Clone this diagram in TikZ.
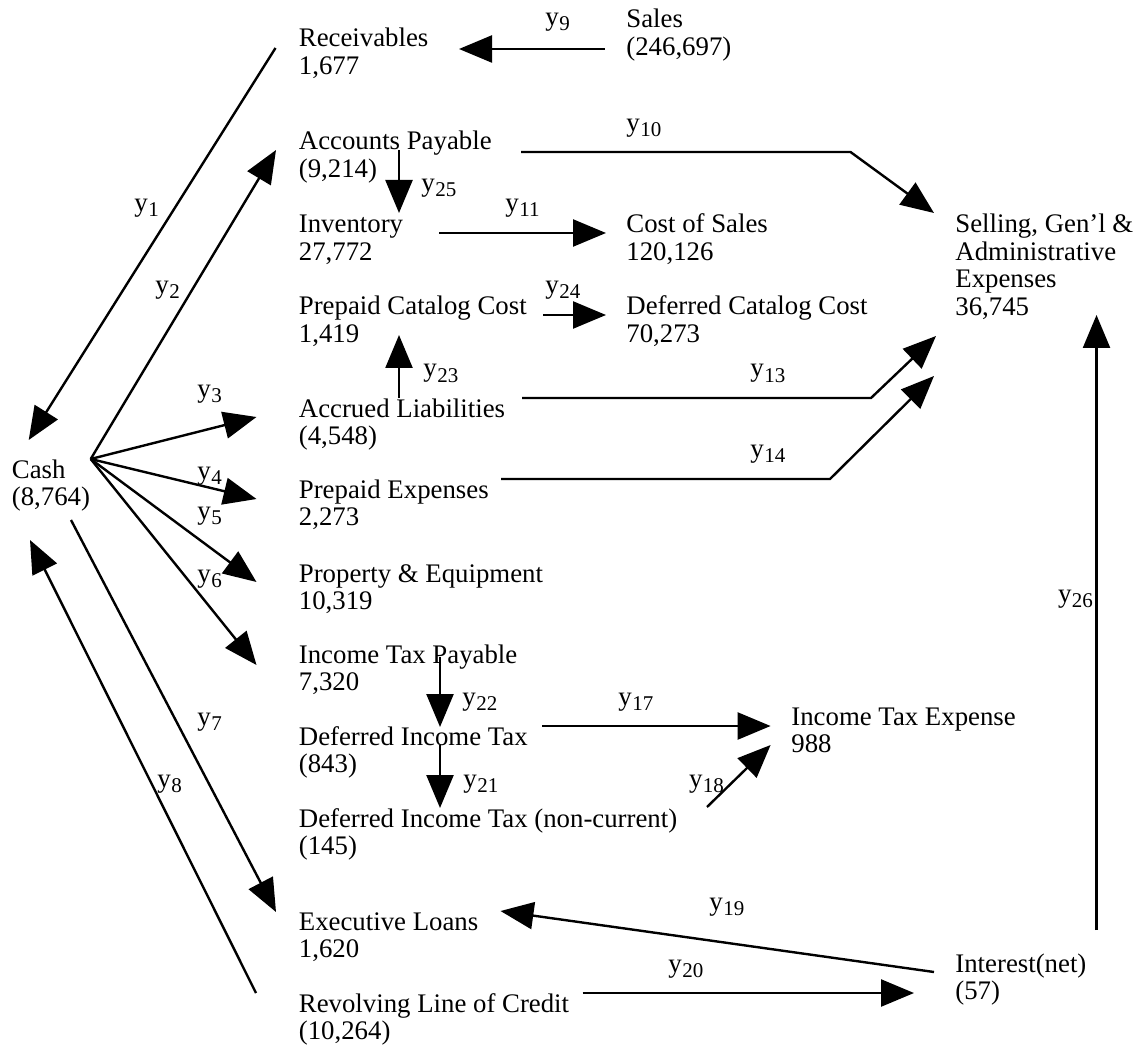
\documentclass[tikz,border=0pt]{standalone}
\usepackage{fontspec}
\setmainfont{Liberation Serif}
\usetikzlibrary{arrows.meta}
\newcommand\two[2]{\vtop{\hbox{#1}\hbox{#2}}}
\newcommand\yl[1]{y\kern0.2pt\raisebox{-2.5pt}{\fontsize{10.5}{11}\selectfont #1}}
\begin{document}
\begin{tikzpicture}[x=0.5pt,y=-0.5pt,
  acc/.style={anchor=base west,inner sep=0pt,font=\fontsize{13.4}{13.7}\selectfont},
  lab/.style={anchor=base west,inner sep=0pt,font=\fontsize{13.5}{14}\selectfont},
  ln/.style={line width=1.2pt,line join=miter},
  arr/.style={ln,-{Triangle[length=16.5pt,width=13.5pt]}}]
\useasboundingbox (0,0) rectangle (1143,1047);
% accounts
\node[acc] (recv) at (298.5,47) {\two{Receivables}{1,677}};
\node[acc] (sales) at (626,28) {\two{Sales}{(246,697)}};
\node[acc] (ap) at (298.5,150) {\two{Accounts Payable}{(9,214)}};
\node[acc] (inv) at (298.5,233) {\two{Inventory}{27,772}};
\node[acc] (cos) at (626,233) {\two{Cost of Sales}{120,126}};
\node[acc] (pcc) at (298.5,315) {\two{Prepaid Catalog Cost}{1,419}};
\node[acc] (dcc) at (626,315) {\two{Deferred Catalog Cost}{70,273}};
\node[acc] (sga) at (955,233) {\vtop{\hbox{Selling, Gen'l \&}\hbox{Administrative}\hbox{Expenses}\hbox{36,745}}};
\node[acc] (accr) at (298.5,417) {\two{Accrued Liabilities}{(4,548)}};
\node[acc] (cash) at (11.5,478) {\two{Cash}{(8,764)}};
\node[acc] (ppe) at (298.5,498) {\two{Prepaid Expenses}{2,273}};
\node[acc] (prop) at (298.5,582) {\two{Property \& Equipment}{10,319}};
\node[acc] (itp) at (298.5,663) {\two{Income Tax Payable}{7,320}};
\node[acc] (dit) at (298.5,745) {\two{Deferred Income Tax}{(843)}};
\node[acc] (ite) at (791,725) {\two{Income Tax Expense}{988}};
\node[acc] (ditn) at (298.5,827) {\two{Deferred Income Tax (non-current)}{(145)}};
\node[acc] (exl) at (298.5,930) {\two{Executive Loans}{1,620}};
\node[acc] (intr) at (955,972) {\two{Interest(net)}{(57)}};
\node[acc] (rloc) at (298.5,1012) {\two{Revolving Line of Credit}{(10,264)}};
% connectors
\draw[arr] ([shift={(-23,1)}]recv.base west) -- ([shift={(17.2,-38)}]cash.base west);
\draw[arr] ([shift={(79.2,-19)}]cash.base west) -- ([shift={(-22.5,0)}]ap.base west);
\draw[arr] ([shift={(79.2,-19)}]cash.base west) -- ([shift={(-42,0)}]accr.base west);
\draw[arr] ([shift={(79.2,-19)}]cash.base west) -- ([shift={(-42,1)}]ppe.base west);
\draw[arr] ([shift={(79.2,-19)}]cash.base west) -- ([shift={(-42,0)}]prop.base west);
\draw[arr] ([shift={(79.2,-19)}]cash.base west) -- ([shift={(-42,2)}]itp.base west);
\draw[arr] ([shift={(59.5,42)}]cash.base west) -- ([shift={(-22.5,-18)}]exl.base west);
\draw[arr] ([shift={(-42.5,-19)}]rloc.base west) -- ([shift={(18.5,62)}]cash.base west);
\draw[arr] ([shift={(-21.5,21)}]sales.base west) -- ([shift={(160.5,2)}]recv.base west);
\draw[arr] ([shift={(222.5,2)}]ap.base west) -- ([shift={(552,2)}]ap.base west) -- ([shift={(-21,-20)}]sga.base west);
\draw[arr] ([shift={(100.5,0)}]ap.base west) -- ([shift={(100.5,-20)}]inv.base west);
\draw[arr] ([shift={(140.5,0)}]inv.base west) -- ([shift={(-20,0)}]cos.base west);
\draw[arr] ([shift={(244.5,0)}]pcc.base west) -- ([shift={(-20,0)}]dcc.base west);
\draw[arr] ([shift={(100.5,-19)}]accr.base west) -- ([shift={(100.5,20)}]pcc.base west);
\draw[arr] ([shift={(223.5,-19)}]accr.base west) -- ([shift={(572.5,-19)}]accr.base west) -- ([shift={(-19,103)}]sga.base west);
\draw[arr] ([shift={(202.5,-19)}]ppe.base west) -- ([shift={(531.5,-19)}]ppe.base west) -- ([shift={(-21,143)}]sga.base west);
\draw[arr] ([shift={(141.5,-6)}]itp.base west) -- ([shift={(141.5,-18)}]dit.base west);
\draw[arr] ([shift={(141.5,0)}]dit.base west) -- ([shift={(141.5,-19)}]ditn.base west);
\draw[arr] ([shift={(243.5,-19)}]dit.base west) -- ([shift={(-20.4,1)}]ite.base west);
\draw[arr] ([shift={(408.5,-20)}]ditn.base west) -- ([shift={(-20.4,20)}]ite.base west);
\draw[arr] ([shift={(-21,0)}]intr.base west) -- ([shift={(202,-19)}]exl.base west);
\draw[arr] ([shift={(284,-19)}]rloc.base west) -- ([shift={(-41,21)}]intr.base west);
\draw[arr] ([shift={(141.5,-42)}]intr.base west) -- ([shift={(141.5,82)}]sga.base west);
% labels
\node[lab] (l1) at (134,212) {\yl{1}};
\node[lab] (l2) at (155,294) {\yl{2}};
\node[lab] (l3) at (197,397) {\yl{3}};
\node[lab] (l4) at (197,479) {\yl{4}};
\node[lab] (l5) at (197,519) {\yl{5}};
\node[lab] (l6) at (197,582) {\yl{6}};
\node[lab] (l7) at (197,725) {\yl{7}};
\node[lab] (l8) at (157,787) {\yl{8}};
\node[lab] (l9) at (545,26) {\yl{9}};
\node[lab] (l10) at (626,132) {\yl{10}};
\node[lab] (l11) at (505,212) {\yl{11}};
\node[lab] (l13) at (750,377) {\yl{13}};
\node[lab] (l14) at (750,457) {\yl{14}};
\node[lab] (l17) at (618,705) {\yl{17}};
\node[lab] (l18) at (688.6,787) {\yl{18}};
\node[lab] (l19) at (709,910) {\yl{19}};
\node[lab] (l20) at (668,972) {\yl{20}};
\node[lab] (l21) at (463,787) {\yl{21}};
\node[lab] (l22) at (462,705) {\yl{22}};
\node[lab] (l23) at (423,377) {\yl{23}};
\node[lab] (l24) at (545,294) {\yl{24}};
\node[lab] (l25) at (421,192) {\yl{25}};
\node[lab] (l26) at (1057.6,602) {\yl{26}};
\end{tikzpicture}
\end{document}
